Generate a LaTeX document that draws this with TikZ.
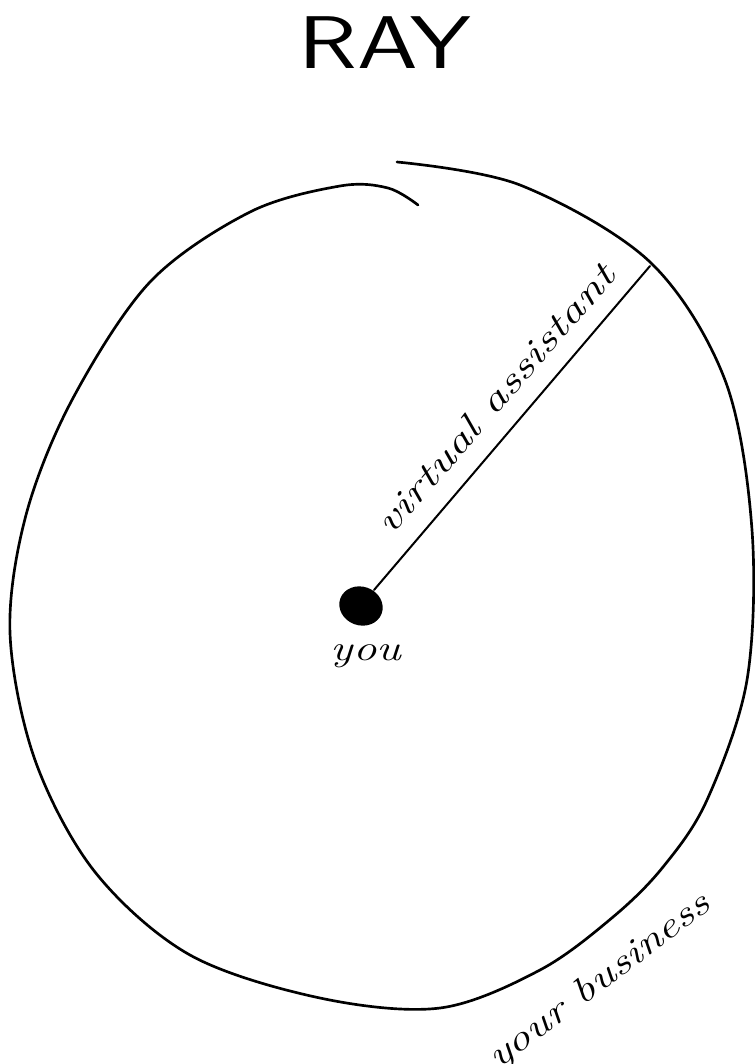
\documentclass[tikz,border=0pt]{standalone}
\usepackage{graphicx}
\usetikzlibrary{shapes.geometric}
\tikzset{
  ink/.style={line width=1.6pt, line cap=round, line join=round, black},
  hand/.style={font=\itshape\fontsize{27}{27}\selectfont, inner sep=0pt},
}
\begin{document}
\begin{tikzpicture}[x=0.75pt,y=-0.75pt]
\useasboundingbox (0,0) rectangle (754,1064);
% title
\node[inner sep=0pt, font=\sffamily\fontsize{56}{56}\selectfont] (title) at (385,43) {\scalebox{1.3}[1]{RAY}};
% the business circle (hand drawn, open at the top)
\draw[ink, line width=2pt] plot[smooth, tension=0.55] coordinates {
 (397,162) (520,185) (650,262) (725,380) (752,530) (747,680) (707,800) (663,867)
 (613,917) (540,970) (440,1008) (320,998) (190,955) (95,872) (35,760) (10,633)
 (26,515) (72,400) (150,282) (250,212) (340,186) (388,188) (418,205)};
% you
\node[ellipse, fill=black, minimum width=33pt, minimum height=29pt, inner sep=0pt, rotate=-20] (dot) at (361,606) {};
\coordinate (vaend) at (650,266);
\draw[ink, line width=1.5pt] (dot.center) ++(13,-16) coordinate (dotedge) (dotedge) -- (vaend);
\node[hand] (you) at (366,656) {\scalebox{1.3}[1]{you}};
% labels
\node[hand, rotate=49, anchor=south] (va) at (505,407) {\scalebox{1.4}[1]{virtual assistant}};
\node[hand, rotate=37] (biz) at (600,982) {\scalebox{1.3}[1]{your business}};
\end{tikzpicture}
\end{document}
